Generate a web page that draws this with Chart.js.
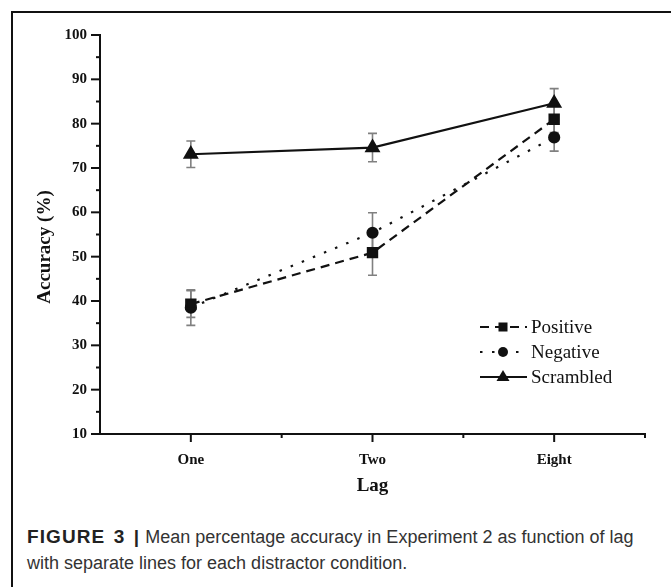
<!DOCTYPE html>
<html>
<head>
<meta charset="utf-8">
<script src="https://cdn.jsdelivr.net/npm/chart.js@4"></script>
<style>
  html, body { margin: 0; padding: 0; background: #fff; }
  body { width: 671px; height: 587px; position: relative; overflow: hidden; }
  .frame {
    position: absolute; left: 11px; top: 11px; right: -5px; bottom: -5px;
    border-top: 2px solid #111; border-left: 2px solid #111;
  }
  #wrap { position: absolute; left: 0; top: 0; width: 671px; height: 510px; }
  .caption {
    position: absolute; left: 27px; top: 524px; width: 636px;
    font-family: "Liberation Sans", Arial, sans-serif; font-size: 18px;
    line-height: 26px; color: #333;
  }
  .caption b { color: #222; font-size: 19px; letter-spacing: 1.1px; word-spacing: 2px; }
</style>
</head>
<body>
<div class="frame"></div>
<div id="wrap"><canvas id="chart" width="671" height="510"></canvas></div>
<div class="caption"><b>FIGURE 3 |</b> Mean percentage accuracy in Experiment 2 as function of lag with separate lines for each distractor condition.</div>
<script>
// categories (lag)
const lags = ["One", "Two", "Eight"];
// mean accuracy (%)
const positive = [39.3, 50.9, 81.0];
const negative = [38.5, 55.4, 76.9];
const scrambled = [73.1, 74.6, 84.6];
// error bars (+/-)
const positiveErr = [3.0, 5.1, 3.0];
const negativeErr = [4.0, 4.5, 3.1];
const scrambledErr = [3.0, 3.2, 3.3];
// y tick labels
const yTicks = [10, 20, 30, 40, 50, 60, 70, 80, 90, 100];

const toPoints = arr => arr.map((v, i) => ({ x: i, y: v }));

const serif = '"Liberation Serif", "Times New Roman", serif';

// error bars drawn under the markers
const errorBars = {
  id: "errorBars",
  beforeDatasetsDraw(chart) {
    const { ctx, scales: { x, y } } = chart;
    ctx.save();
    ctx.strokeStyle = "#808080";
    ctx.lineWidth = 1.6;
    chart.data.datasets.forEach(ds => {
      ds.data.forEach((p, i) => {
        const px = x.getPixelForValue(p.x);
        const top = y.getPixelForValue(p.y + ds.err[i]);
        const bot = y.getPixelForValue(p.y - ds.err[i]);
        ctx.beginPath();
        ctx.moveTo(px, top); ctx.lineTo(px, bot);
        ctx.moveTo(px - 4.5, top); ctx.lineTo(px + 4.5, top);
        ctx.moveTo(px - 4.5, bot); ctx.lineTo(px + 4.5, bot);
        ctx.stroke();
      });
    });
    ctx.restore();
  }
};

// outward ticks (major + minor), axis title, in-plot legend
const decor = {
  id: "decor",
  afterDraw(chart) {
    const { ctx, scales: { x, y } } = chart;
    ctx.save();
    ctx.strokeStyle = "#111";
    ctx.lineWidth = 2;
    // y ticks
    for (let v = 10; v <= 100; v += 5) {
      const py = y.getPixelForValue(v);
      const len = v % 10 === 0 ? 9 : 4;
      ctx.beginPath();
      ctx.moveTo(x.left - len, py); ctx.lineTo(x.left, py);
      ctx.stroke();
    }
    // x ticks
    for (let v = 0; v <= 2.5; v += 0.5) {
      const px = x.getPixelForValue(v);
      const len = v % 1 === 0 ? 8 : 4;
      ctx.beginPath();
      ctx.moveTo(px, y.bottom); ctx.lineTo(px, y.bottom + len);
      ctx.stroke();
    }
    // y title
    ctx.fillStyle = "#111";
    ctx.font = "bold 19px " + serif;
    ctx.textAlign = "center";
    ctx.textBaseline = "middle";
    ctx.translate(45, 247);
    ctx.rotate(-Math.PI / 2);
    ctx.fillText("Accuracy (%)", 0, 0);
    ctx.restore();

    // legend
    ctx.save();
    chart.data.datasets.forEach((ds, i) => {
      const ly = 327 + i * 25;
      ctx.strokeStyle = "#111";
      ctx.lineWidth = 2;
      ctx.setLineDash(ds.borderDash);
      ctx.beginPath();
      ctx.moveTo(480, ly); ctx.lineTo(527, ly);
      ctx.stroke();
      ctx.setLineDash([]);
      ctx.fillStyle = "#111";
      ctx.beginPath();
      if (ds.pointStyle === "rect") {
        ctx.fillRect(503 - 4.5, ly - 4.5, 9, 9);
      } else if (ds.pointStyle === "circle") {
        ctx.arc(503, ly, 5, 0, Math.PI * 2); ctx.fill();
      } else {
        ctx.moveTo(503, ly - 7); ctx.lineTo(509.5, ly + 4); ctx.lineTo(496.5, ly + 4);
        ctx.closePath(); ctx.fill();
      }
      ctx.font = "normal 19px " + serif;
      ctx.textAlign = "left";
      ctx.textBaseline = "middle";
      ctx.fillText(ds.label, 531, ly + 1);
    });
    ctx.restore();
  }
};

function drawChart() {
  new Chart(document.getElementById("chart"), {
    type: "line",
    data: {
      datasets: [
        {
          label: "Positive",
          data: toPoints(positive),
          err: positiveErr,
          borderColor: "#111",
          backgroundColor: "#111",
          borderWidth: 2.2,
          borderDash: [9, 6],
          pointStyle: "rect",
          pointRadius: 6.5,
        },
        {
          label: "Negative",
          data: toPoints(negative),
          err: negativeErr,
          borderColor: "#111",
          backgroundColor: "#111",
          borderWidth: 2.2,
          borderDash: [2.5, 9.5],
          pointStyle: "circle",
          pointRadius: 5,
        },
        {
          label: "Scrambled",
          data: toPoints(scrambled),
          err: scrambledErr,
          borderColor: "#111",
          backgroundColor: "#111",
          borderWidth: 2.2,
          borderDash: [],
          pointStyle: "triangle",
          pointRadius: 7,
        },
      ],
    },
    options: {
      responsive: false,
      animation: false,
      events: [],
      layout: { padding: { left: 0, right: 26, top: 35, bottom: 0 } },
      plugins: { legend: { display: false }, tooltip: { enabled: false } },
      scales: {
        x: {
          type: "linear",
          min: -0.5,
          max: 2.5,
          afterFit: s => { s.height = 76; },
          afterBuildTicks: s => { s.ticks = lags.map((_, i) => ({ value: i })); },
          grid: { display: false, drawTicks: false },
          border: { display: true, color: "#111", width: 2 },
          ticks: {
            padding: 17,
            color: "#111",
            font: { family: serif, size: 15, weight: "bold" },
            callback: v => lags[v],
          },
          title: {
            display: true,
            text: "Lag",
            color: "#111",
            font: { family: serif, size: 19, weight: "bold" },
            padding: { top: 0, bottom: 13 },
          },
        },
        y: {
          min: 10,
          max: 100,
          afterFit: s => { s.width = 100; },
          afterBuildTicks: s => { s.ticks = yTicks.map(v => ({ value: v })); },
          grid: { display: false, drawTicks: false },
          border: { display: true, color: "#111", width: 2 },
          ticks: {
            padding: 13,
            color: "#111",
            font: { family: serif, size: 15, weight: "bold" },
          },
        },
      },
    },
    plugins: [errorBars, decor],
  });
}

Promise.all([
  document.fonts.load('19px "Liberation Serif"'),
  document.fonts.load('bold 15px "Liberation Serif"'),
]).then(drawChart, drawChart);
</script>
</body>
</html>
